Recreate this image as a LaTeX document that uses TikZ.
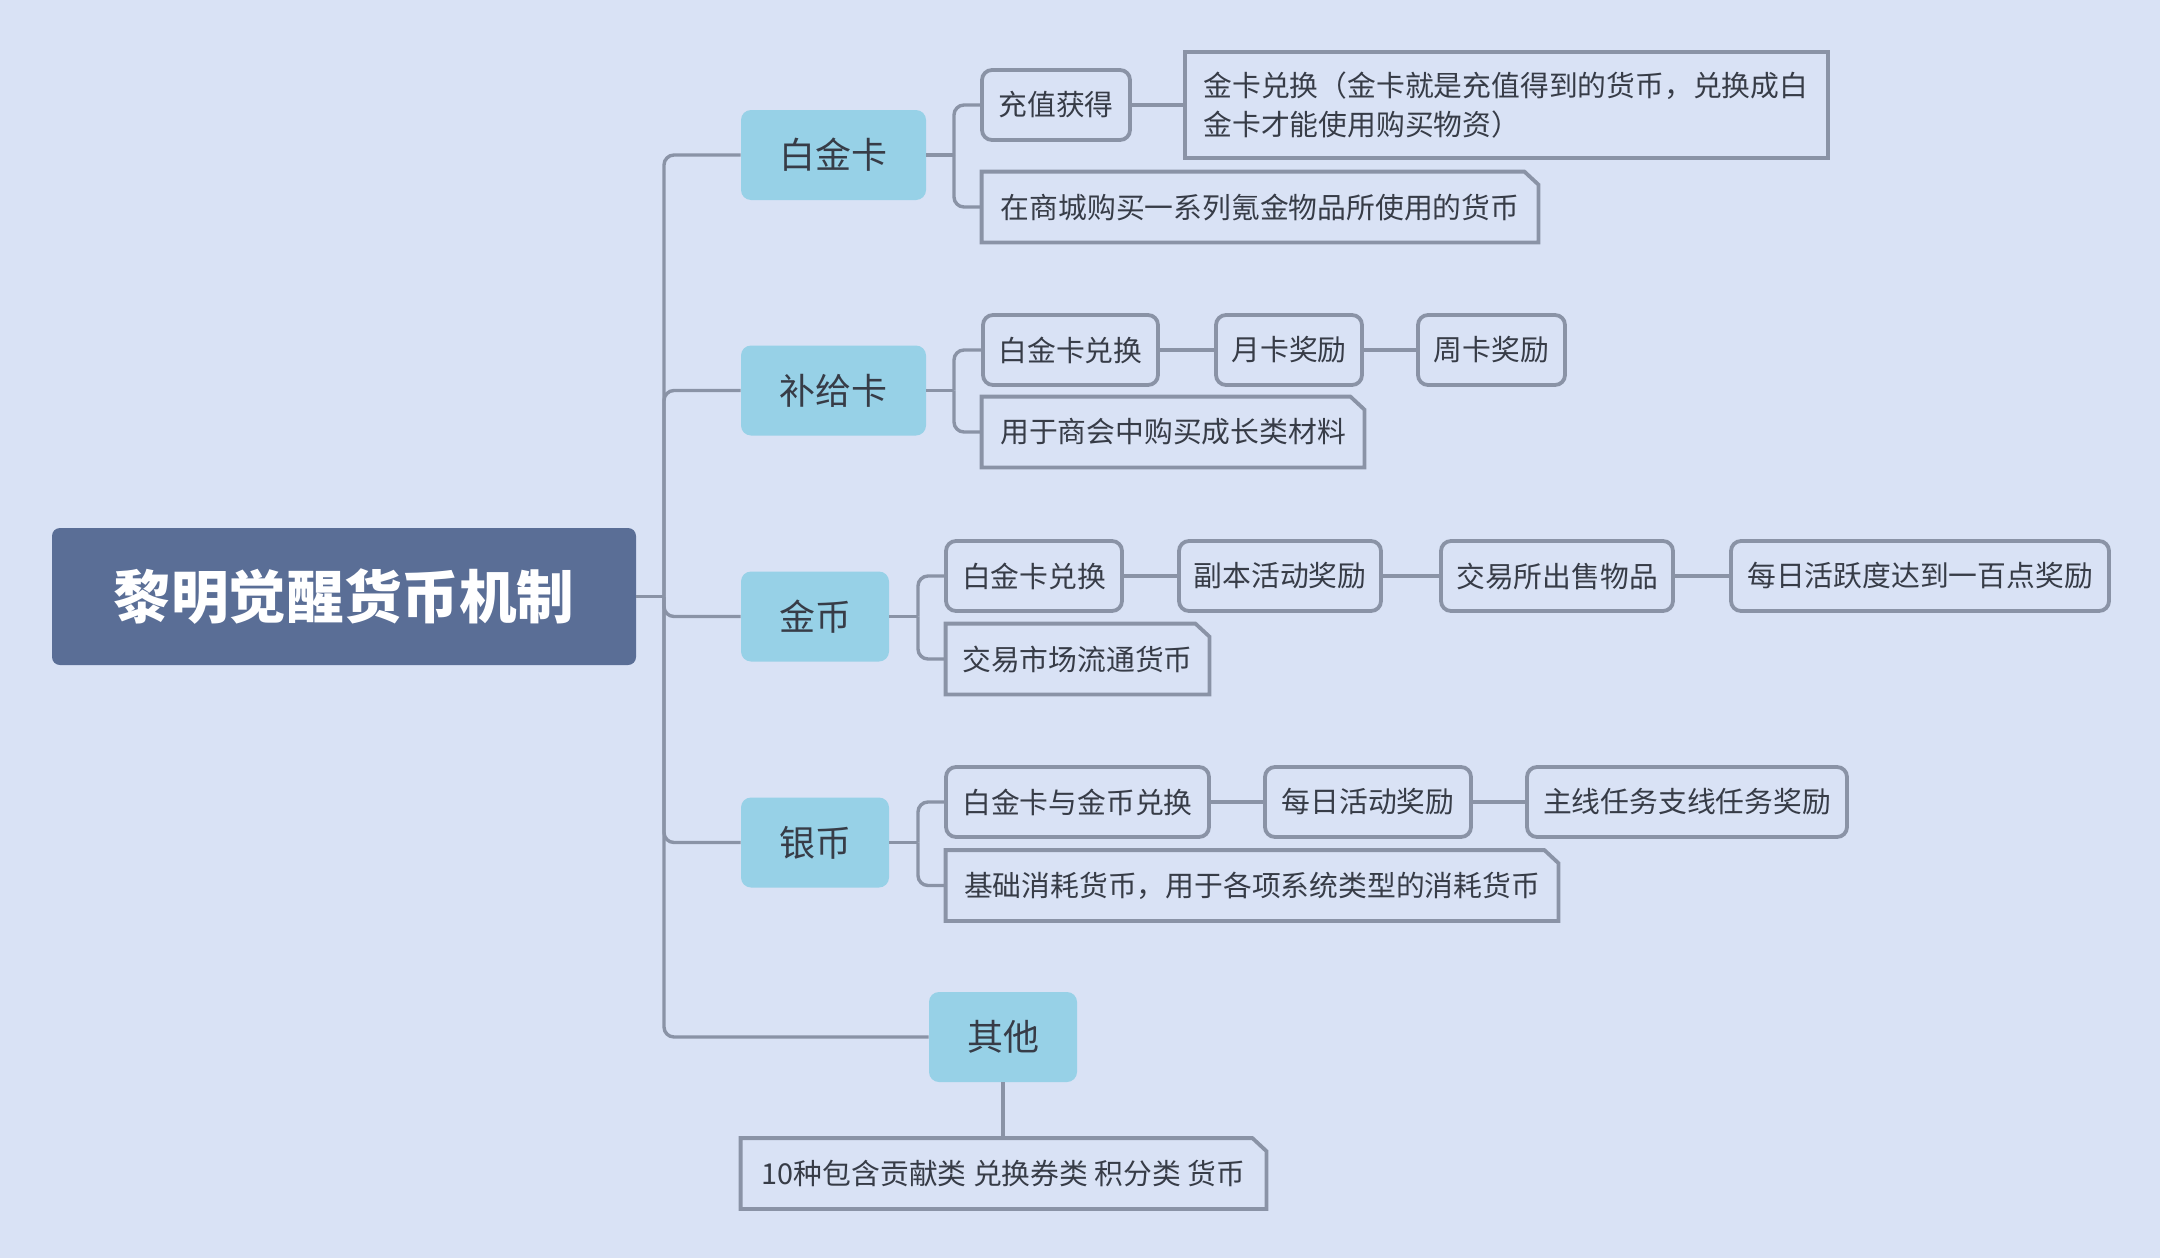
\documentclass[tikz,border=0pt]{standalone}
\usepackage{fontspec}
\setmainfont{Noto Sans CJK SC}
\definecolor{bgC}{HTML}{D9E2F5}
\definecolor{lineC}{HTML}{8A93A6}
\definecolor{rootC}{HTML}{5A6E96}
\definecolor{topicC}{HTML}{97D1E7}
\definecolor{txtC}{HTML}{373C47}
\tikzset{
  link/.style={draw=lineC, line width=1.7pt},
  elbow/.style={link, rounded corners=5pt},
  rootbox/.style={fill=rootC, rounded corners=4pt, text=white, inner sep=0pt,
    font=\fontsize{28.8}{34}\selectfont\bfseries},
  topic/.style={fill=topicC, rounded corners=5pt, text=txtC, inner sep=0pt,
    minimum height=45pt, font=\fontsize{18}{22}\selectfont},
  sub/.style={draw=lineC, line width=1.9pt, rounded corners=5pt, text=txtC, inner sep=0pt,
    minimum height=35pt, font=\fontsize{14.4}{19.5}\selectfont},
  note/.style={text=txtC, inner sep=0pt, minimum height=35pt,
    font=\fontsize{14.4}{19.5}\selectfont},
  notebox/.style={draw=lineC, line width=1.9pt, line join=miter},
}
\newcommand{\cutbox}[1]{%
  \draw[notebox] (#1.south west) -- (#1.north west) -- ([xshift=-7pt]#1.north east)
    -- ([yshift=-6.5pt]#1.north east) -- (#1.south east) -- cycle;}
\begin{document}
\begin{tikzpicture}[x=0.5pt, y=-0.5pt]
\fill[bgC] (0,0) rectangle (2160,1258);
\useasboundingbox (0,0) rectangle (2160,1258);

% root
\node[rootbox, minimum width=292pt, minimum height=68.5pt] (root) at (344,596.5) {黎明觉醒货币机制};

% topics
\node[topic, minimum width=92.5pt] (n1) at (833.5,155) {白金卡};
\node[topic, minimum width=92.5pt] (n2) at (833.5,390.5) {补给卡};
\node[topic, minimum width=74pt] (n3) at (815,616.5) {金币};
\node[topic, minimum width=74pt] (n4) at (815,842.5) {银币};
\node[topic, minimum width=74pt] (n5) at (1003,1037) {其他};

% trunk
\coordinate (t0) at (664,596.5);
\draw[link] (root.east) -- (t0);
\foreach \n in {n1,n2,n3,n4,n5} {\draw[elbow] (t0) |- (\n.west);}

% 白金卡
\node[sub, minimum width=74pt] (c11) at (1056,105) {充值获得};
\node[note, draw=lineC, line width=1.9pt, minimum width=321.5pt, minimum height=53pt, align=left, text width=303pt]
  (c12) at (1506.5,105) {金卡兑换（金卡就是充值得到的货币，兑换成白\\金卡才能使用购买物资）};
\node[note, minimum width=278pt] (c13) at (1260,207) {在商城购买一系列氪金物品所使用的货币};
\cutbox{c13}
\coordinate (b1) at (954,155);
\draw[link] (n1.east) -- (b1);
\draw[elbow] (b1) |- (c11.west);
\draw[elbow] (b1) |- (c13.west);
\draw[link] (c11.east) -- (c12.west);

% 补给卡
\node[sub, minimum width=87.5pt] (c21) at (1070.5,350) {白金卡兑换};
\node[sub, minimum width=73pt] (c22) at (1289,350) {月卡奖励};
\node[sub, minimum width=73.5pt] (c23) at (1491.5,350) {周卡奖励};
\node[note, minimum width=191pt] (c24) at (1173,432) {用于商会中购买成长类材料};
\cutbox{c24}
\coordinate (b2) at (954,390.5);
\draw[link] (n2.east) -- (b2);
\draw[elbow] (b2) |- (c21.west);
\draw[elbow] (b2) |- (c24.west);
\draw[link] (c21.east) -- (c22.west);
\draw[link] (c22.east) -- (c23.west);

% 金币
\node[sub, minimum width=88pt] (c31) at (1034,576) {白金卡兑换};
\node[sub, minimum width=101pt] (c32) at (1280,576) {副本活动奖励};
\node[sub, minimum width=116pt] (c33) at (1557,576) {交易所出售物品};
\node[sub, minimum width=189pt] (c34) at (1920,576) {每日活跃度达到一百点奖励};
\node[note, minimum width=131.5pt] (c35) at (1077.5,659) {交易市场流通货币};
\cutbox{c35}
\coordinate (b3) at (918,616.5);
\draw[link] (n3.east) -- (b3);
\draw[elbow] (b3) |- (c31.west);
\draw[elbow] (b3) |- (c35.west);
\draw[link] (c31.east) -- (c32.west);
\draw[link] (c32.east) -- (c33.west);
\draw[link] (c33.east) -- (c34.west);

% 银币
\node[sub, minimum width=131.5pt] (c41) at (1077.5,802) {白金卡与金币兑换};
\node[sub, minimum width=103pt] (c42) at (1368,802) {每日活动奖励};
\node[sub, minimum width=160pt] (c43) at (1687,802) {主线任务支线任务奖励};
\node[note, minimum width=306pt] (c44) at (1252,885.5) {基础消耗货币，用于各项系统类型的消耗货币};
\cutbox{c44}
\coordinate (b4) at (918,842.5);
\draw[link] (n4.east) -- (b4);
\draw[elbow] (b4) |- (c41.west);
\draw[elbow] (b4) |- (c44.west);
\draw[link] (c41.east) -- (c42.west);
\draw[link] (c42.east) -- (c43.west);

% 其他
\node[note, minimum width=262.5pt] (c51) at (1003.5,1173.5) {10种包含贡献类 兑换券类 积分类 货币};
\cutbox{c51}
\draw[link] (n5.south) -- (n5.south |- c51.north);
\end{tikzpicture}
\end{document}
